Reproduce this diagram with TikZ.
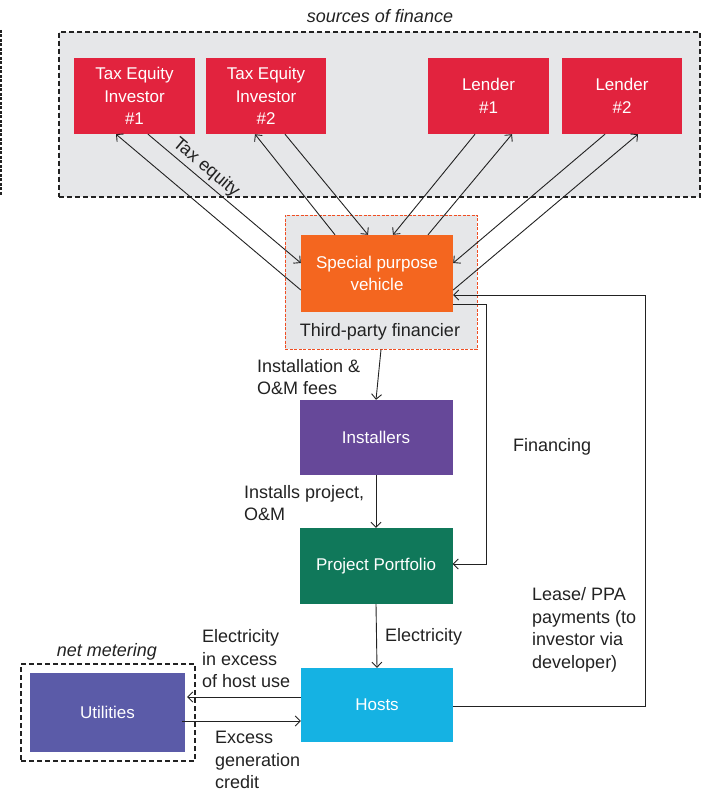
\documentclass[tikz,border=0pt]{standalone}
\usepackage{fontspec}
\setmainfont{Liberation Sans}
\usetikzlibrary{arrows.meta}

\definecolor{redbox}{HTML}{E2233E}
\definecolor{orangebox}{HTML}{F4661F}
\definecolor{purplebox}{HTML}{664899}
\definecolor{greenbox}{HTML}{10785A}
\definecolor{cyanbox}{HTML}{15B2E3}
\definecolor{utilbox}{HTML}{5B5BA8}
\definecolor{panel}{HTML}{E6E7E9}
\definecolor{ink}{HTML}{222222}
\definecolor{tpfline}{HTML}{F04E23}

\tikzset{
  box/.style={draw=none, inner sep=0pt, align=center, text=white,
    minimum width=153pt, minimum height=76pt,
    font=\fontsize{17}{22.5}\selectfont},
  lbl/.style={inner sep=0pt, align=left, text=ink,
    font=\fontsize{18}{22.5}\selectfont},
  flow/.style={draw=ink, line width=0.9pt,
    -{Straight Barb[length=5pt,width=10pt]}},
  group/.style={draw=ink, line width=1.2pt, dash pattern=on 5pt off 3pt, inner sep=0pt},
}

\begin{document}
\begin{tikzpicture}[x=1pt,y=-1pt]
\useasboundingbox (0,0) rectangle (702,791);

% panel of financing sources
\node[group, fill=panel, minimum width=641pt, minimum height=165pt] (src) at (379.5,114.5) {};
\node[lbl, font=\fontsize{18}{22.5}\selectfont\itshape] (srclbl) at (380,16) {sources of finance};
\coordinate (edgeTop) at (1,30);
\coordinate (edgeBot) at (1,195);
\draw[ink, line width=1.2pt, dash pattern=on 3pt off 1.5pt] (edgeTop) -- (edgeBot);

% third-party financier frame
\node[draw=tpfline, line width=0.9pt, dash pattern=on 3pt off 1.5pt, fill=panel,
      inner sep=0pt, minimum width=192pt, minimum height=134pt] (tpf) at (381,282) {};
\node[lbl] (tpflbl) at (380,332) {Third-party financier};

% net metering frame
\node[group, minimum width=174pt, minimum height=97pt] (nm) at (108,712.5) {};
\node[lbl, font=\fontsize{18}{22.5}\selectfont\itshape] (nmlbl) at (107,652) {net metering};

% boxes
\node[box, fill=redbox, minimum width=121pt] (tei1) at (134.5,96) {Tax Equity\\Investor\\\#1};
\node[box, fill=redbox, minimum width=120pt] (tei2) at (266,96) {Tax Equity\\Investor\\\#2};
\node[box, fill=redbox, minimum width=121pt] (len1) at (488.5,96) {Lender\\\#1};
\node[box, fill=redbox, minimum width=120pt] (len2) at (622,96) {Lender\\\#2};
\node[box, fill=orangebox, minimum width=152pt, minimum height=77pt] (spv) at (377,273.5) {Special purpose\\vehicle};
\node[box, fill=purplebox, minimum height=75pt] (inst) at (376,437.5) {Installers};
\node[box, fill=greenbox] (port) at (376,566) {Project Portfolio};
\node[box, fill=cyanbox, minimum width=152pt, minimum height=74pt] (hosts) at (377,705) {Hosts};
\node[box, fill=utilbox, minimum width=155pt, minimum height=79pt] (util) at (107.5,712.5) {Utilities};

% flows between the vehicle and the sources of finance
\draw[flow] ([yshift=-16.5pt]spv.west) -- ([xshift=-18.5pt]tei1.south);
\draw[flow] ([xshift=13.5pt]tei1.south) -- node[sloped, above=3pt, pos=0.33, lbl] (taxeq) {Tax equity} ([yshift=10.5pt]spv.west);
\draw[flow] ([xshift=-42pt]spv.north) -- ([xshift=-11pt]tei2.south);
\draw[flow] ([xshift=19pt]tei2.south) -- ([xshift=-9pt]spv.north);
\draw[flow] ([xshift=-13.5pt]len1.south) -- ([xshift=16pt]spv.north);
\draw[flow] ([xshift=51pt]spv.north) -- ([xshift=23.5pt]len1.south);
\draw[flow] ([xshift=-17pt]len2.south) -- ([yshift=10.5pt]spv.east);
\draw[flow] ([yshift=-16.5pt]spv.east) -- ([xshift=16pt]len2.south);

% main chain
\draw[flow] (tpf.south) -- (inst.north);
\node[lbl, anchor=west] (instlbl) at (257,377) {Installation \&\\O\&M fees};
\draw[flow] (inst.south) -- (port.north);
\node[lbl, anchor=west] (portlbl) at (244,503) {Installs project,\\O\&M};
\draw[flow] (port.south) -- (hosts.north);
\node[lbl, anchor=west] (eleclbl) at (385,637) {Electricity};

% financing loop
\coordinate (finA) at ([yshift=-30.5pt]spv.east);
\coordinate (finB) at (486,564);
\draw[flow] (finA) -| (finB) -- (finB -| port.east);
\node[lbl, anchor=west] (finlbl) at (513,447) {Financing};

% lease / PPA payments loop
\coordinate (leaseA) at ([yshift=-1pt]hosts.east);
\coordinate (leaseB) at (645,295);
\draw[flow] (leaseA) -| (leaseB) -- (leaseB -| spv.east);
\node[lbl, anchor=west] (leaselbl) at (532,630) {Lease/ PPA\\payments (to\\investor via\\developer)};

% net metering exchange
\coordinate (hOut) at ([yshift=8pt]hosts.west);
\coordinate (hIn) at ([yshift=-16pt]hosts.west);
\draw[flow] (hOut) -- ([xshift=2pt]hOut -| util.east);
\draw[flow] ([xshift=-3pt]hIn -| util.east) -- (hIn);
\node[lbl, anchor=west] (excesslbl) at (202,659) {Electricity\\in excess\\of host use};
\node[lbl, anchor=west] (creditlbl) at (215,760) {Excess\\generation\\credit};
\end{tikzpicture}
\end{document}
